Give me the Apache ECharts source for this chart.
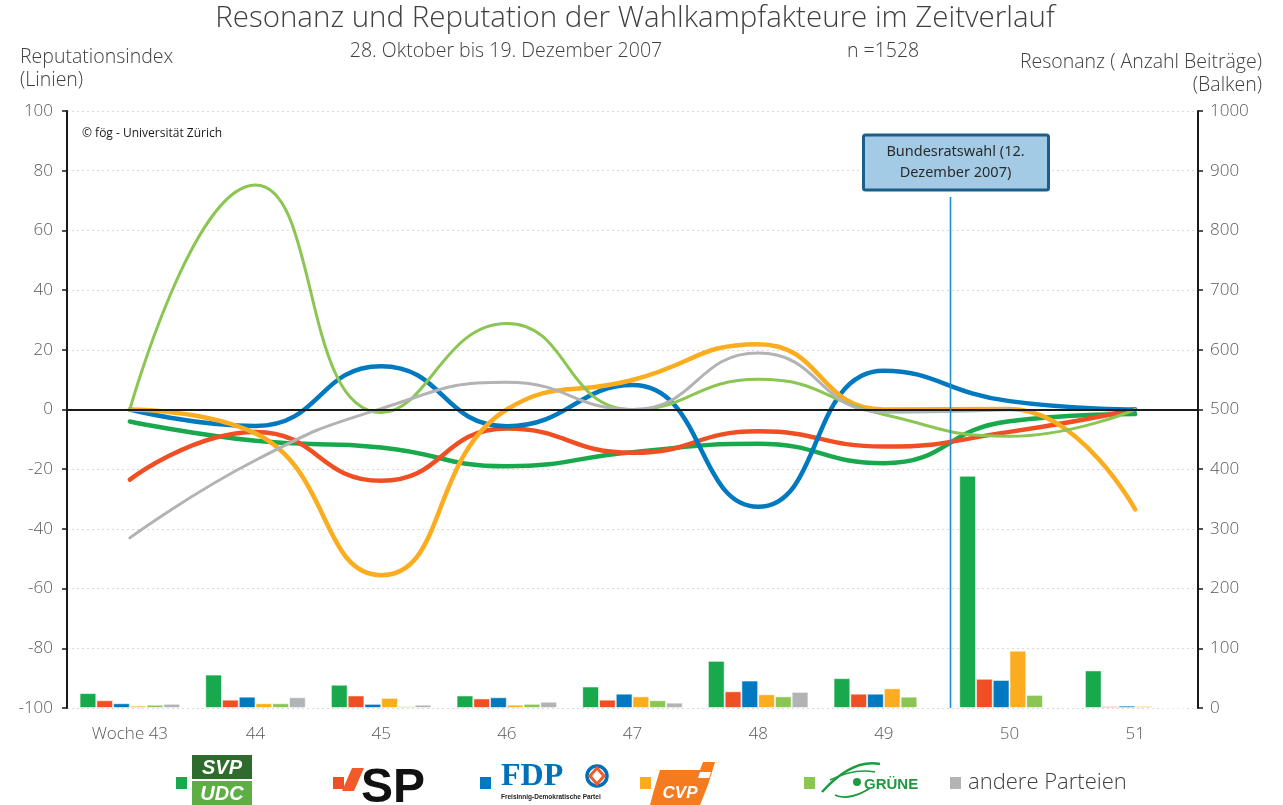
<!DOCTYPE html>
<html>
<head>
<meta charset="utf-8">
<script src="https://cdn.jsdelivr.net/npm/echarts@6/dist/echarts.min.js"></script>
<style>
html,body{margin:0;padding:0;background:#fff;}
#chart{width:1283px;height:805px;}
</style>
</head>
<body>
<div id="chart"></div>
<script>
// ---- data ----
const categories = ['Woche 43', '44', '45', '46', '47', '48', '49', '50', '51'];
const parties = ['SVP', 'SP', 'FDP', 'CVP', 'Grüne', 'andere Parteien'];
const colors = ['#17a94c', '#f04e23', '#0079c1', '#fbad1f', '#8bc653', '#b2b3b5'];

// Reputationsindex (lines, left axis)
const repSVP    = [-4, -10.5, -12.7, -19, -14.3, -11.5, -18, -3.9, -1.5];
const repSP     = [-23.5, -7.5, -23.9, -6.4, -14.5, -7.3, -12.4, -7.5, 0];
const repFDP    = [0, -5.5, 14.5, -5.6, 8.2, -32.6, 13, 2.8, 0];
const repCVP    = [0, -8, -55.5, 0, 9.9, 21.9, 0, 0.2, -33.5];
const repGruene = [0, 75.2, -1, 28.8, 0, 10.1, -1.7, -9, 0];
const repAndere = [-43, -17, 0.3, 9.1, 0, 18.9, -0.9, 0, null];

// Resonanz (bars, right axis)
const resSVP    = [25, 56, 39, 21, 36, 79, 50, 389, 63];
const resSP     = [13, 14, 21, 16, 14, 28, 24, 49, 3];
const resFDP    = [8, 19, 7, 18, 24, 46, 24, 47, 4];
const resCVP    = [4, 8, 17, 5.5, 19.5, 23, 33, 96, 3.5];
const resGruene = [5.5, 8, 3, 7, 13, 19.5, 19, 22, 1];
const resAndere = [7, 18, 5.5, 10.5, 9, 27, 1.5, 2, 0];

const leftTicks = {min: -100, max: 100, interval: 20};
const rightTicks = {min: 0, max: 1000, interval: 100};

const eventIndex = 6.53; // Bundesratswahl between week 49 and 50
const eventLabel = 'Bundesratswahl (12.\nDezember 2007)';

const repData = [repSVP, repSP, repFDP, repCVP, repGruene, repAndere];
const resData = [resSVP, resSP, resFDP, resCVP, resGruene, resAndere];
const lineWidths = [4.5, 4.5, 4.5, 4.5, 3, 3];

const FONT = '"Open Sans", "DejaVu Sans", sans-serif';

const series = [];
resData.forEach((d, i) => {
  series.push({
    name: parties[i] + ' Resonanz', type: 'bar', yAxisIndex: 1, data: d,
    barGap: '0%', barCategoryGap: '20%',
    itemStyle: {color: colors[i], borderColor: 'rgba(255,255,255,0.55)', borderWidth: 1},
    z: 2
  });
});
repData.forEach((d, i) => {
  series.push({
    name: parties[i] + ' Reputation', type: 'line', yAxisIndex: 0, data: d,
    smooth: 0.5, showSymbol: false, symbol: 'none',
    lineStyle: {color: colors[i], width: lineWidths[i], cap: 'round', join: 'round'},
    itemStyle: {color: colors[i]},
    z: 4
  });
});
series.push({
  name: 'zero', type: 'line', yAxisIndex: 0, data: [], z: 3,
  markLine: {silent: true, symbol: 'none', label: {show: false},
    lineStyle: {color: '#1a1a1a', width: 2, type: 'solid'},
    data: [{yAxis: 0}]}
});

const chart = echarts.init(document.getElementById('chart'), null, {renderer: 'canvas'});

const option = {
  animation: false,
  backgroundColor: '#fff',
  textStyle: {fontFamily: FONT},
  grid: {left: 67, right: 85, top: 111, bottom: 97, containLabel: false},
  xAxis: {
    type: 'category', data: categories,
    axisLine: {show: false}, axisTick: {show: false},
    axisLabel: {color: '#595959', fontSize: 17, fontFamily: FONT, margin: 18, fontWeight: 300}
  },
  yAxis: [
    {type: 'value', min: leftTicks.min, max: leftTicks.max, interval: leftTicks.interval,
     axisLine: {show: true, lineStyle: {color: '#1a1a1a', width: 2}},
     axisTick: {show: true, length: 5, lineStyle: {color: '#1a1a1a', width: 1.5}},
     axisLabel: {color: '#595959', fontSize: 17, fontFamily: FONT, margin: 14, fontWeight: 300},
     splitLine: {show: true, lineStyle: {color: '#d9d9d9', type: [2, 3], width: 1}}},
    {type: 'value', min: rightTicks.min, max: rightTicks.max, interval: rightTicks.interval,
     axisLine: {show: true, lineStyle: {color: '#1a1a1a', width: 2}},
     axisTick: {show: true, length: 5, lineStyle: {color: '#1a1a1a', width: 1.5}},
     axisLabel: {color: '#595959', fontSize: 17, fontFamily: FONT, margin: 12, fontWeight: 300,
       formatter: function (v) { return String(v); }},
     splitLine: {show: false}}
  ],
  series: series
};
chart.setOption(option);

// ---- annotations / titles / legend ----
const g = [];
function txt(x, y, text, size, opts) {
  opts = opts || {};
  g.push({type: 'text', x: x, y: y, silent: true, z: 50,
    style: Object.assign({text: text, fill: opts.fill || '#404040',
      font: (opts.style || 'normal') + ' ' + (opts.weight || 300) + ' ' + size + 'px ' + (opts.family || FONT),
      textAlign: opts.align || 'left', textVerticalAlign: opts.valign || 'middle',
      lineHeight: opts.lineHeight || size * 1.35}, opts.extra || {})});
}
txt(635, 19, 'Resonanz und Reputation der Wahlkampfakteure im Zeitverlauf', 29.5, {align: 'center'});
txt(506, 51, '28. Oktober bis 19. Dezember 2007', 19.5, {align: 'center'});
txt(847, 51, 'n =1528', 19.5);
txt(20, 69, 'Reputationsindex\n(Linien)', 19.5, {lineHeight: 23});
txt(1262, 74, 'Resonanz ( Anzahl Beiträge)\n(Balken)', 19.5, {align: 'right', lineHeight: 23});
txt(82, 134, '© fög - Universität Zürich', 12, {fill: '#1a1a1a', weight: 400});

// event line & box
const pA = chart.convertToPixel({xAxisIndex: 0}, Math.floor(eventIndex));
const pB = chart.convertToPixel({xAxisIndex: 0}, Math.ceil(eventIndex));
const ex = Math.round(pA + (pB - pA) * (eventIndex - Math.floor(eventIndex))) + 0.5;
const yBottom = chart.convertToPixel({yAxisIndex: 0}, leftTicks.min);
g.push({type: 'line', silent: true, z: 40,
  shape: {x1: ex, y1: 197, x2: ex, y2: yBottom},
  style: {stroke: '#1f8fd4', lineWidth: 1.6}});
g.push({type: 'rect', silent: true, z: 45,
  shape: {x: ex - 87, y: 135, width: 185, height: 55, r: 2},
  style: {fill: '#a4cbe6', stroke: '#1c5f8b', lineWidth: 3}});
txt(ex + 5, 162, eventLabel, 14.5, {align: 'center', fill: '#2b2b2b', weight: 400, lineHeight: 21,
  family: '"Noto Sans", "Open Sans", sans-serif'});

// legend squares
const sqX = [176, 333, 480, 640, 804, 950];
sqX.forEach((x, i) => {
  g.push({type: 'rect', silent: true, z: 50, shape: {x: x, y: 777, width: 11, height: 12},
    style: {fill: colors[i]}});
});
// SVP/UDC logo
g.push({type: 'rect', silent: true, z: 50, shape: {x: 192, y: 755, width: 60, height: 24}, style: {fill: '#2f6b2c'}});
g.push({type: 'rect', silent: true, z: 50, shape: {x: 192, y: 781, width: 60, height: 24}, style: {fill: '#5cae45'}});
txt(222, 768, 'SVP', 20, {align: 'center', fill: '#fff', weight: 'bold', style: 'italic', family: '"Liberation Sans", Arial, sans-serif'});
txt(222, 794, 'UDC', 20, {align: 'center', fill: '#fff', weight: 'bold', style: 'italic', family: '"Liberation Sans", Arial, sans-serif'});
// SP logo
g.push({type: 'polygon', silent: true, z: 50, shape: {points: [[352, 768], [364, 768], [354, 791], [342, 791]]}, style: {fill: '#f15a29'}});
txt(361, 789, 'SP', 48, {fill: '#111', weight: 'bold', family: '"Liberation Sans", Arial, sans-serif'});
// FDP logo
txt(501, 777, 'FDP', 32, {fill: '#0070bb', weight: 'bold', family: '"Liberation Serif", "DejaVu Serif", serif'});
g.push({type: 'circle', silent: true, z: 50, shape: {cx: 597, cy: 776, r: 10}, style: {fill: '#fff', stroke: '#0070bb', lineWidth: 3.5}});
g.push({type: 'polygon', silent: true, z: 51, shape: {points: [[597, 768], [604, 776], [597, 784], [590, 776]]}, style: {fill: '#fff', stroke: '#f15a29', lineWidth: 3}});
txt(501, 797, 'Freisinnig-Demokratische Partei', 6.5, {fill: '#222', weight: 'bold', family: '"Liberation Sans", Arial, sans-serif'});
// CVP logo
g.push({type: 'polygon', silent: true, z: 50, shape: {points: [[660, 770], [700, 770], [703, 762], [715, 762], [708, 785], [700, 805], [650, 805], [654, 790]]}, style: {fill: '#f47b20'}});
g.push({type: 'polygon', silent: true, z: 51, shape: {points: [[700, 772], [711, 772], [709, 778], [698, 778]]}, style: {fill: '#fff'}});
txt(680, 793, 'CVP', 17, {align: 'center', fill: '#fff', weight: 'bold', style: 'italic', family: '"Liberation Sans", Arial, sans-serif'});
// GRÜNE logo
g.push({type: 'bezierCurve', silent: true, z: 50, shape: {x1: 822, y1: 792, x2: 880, y2: 764, cpx1: 840, cpy1: 772, cpx2: 860, cpy2: 760}, style: {stroke: '#1e9a40', lineWidth: 2.5, fill: null}});
g.push({type: 'bezierCurve', silent: true, z: 50, shape: {x1: 830, y1: 780, x2: 875, y2: 772, cpx1: 850, cpy1: 770, cpx2: 865, cpy2: 770}, style: {stroke: '#1e9a40', lineWidth: 1.5, fill: null}});
g.push({type: 'bezierCurve', silent: true, z: 50, shape: {x1: 835, y1: 795, x2: 870, y2: 788, cpx1: 845, cpy1: 800, cpx2: 860, cpy2: 795}, style: {stroke: '#1e9a40', lineWidth: 1.8, fill: null}});
g.push({type: 'circle', silent: true, z: 50, shape: {cx: 857, cy: 782, r: 4}, style: {fill: '#1e9a40'}});
txt(864, 785, 'GRÜNE', 15, {fill: '#1e9a40', weight: 'bold', family: '"Liberation Sans", Arial, sans-serif'});
// andere Parteien
txt(968, 783, 'andere Parteien', 22, {fill: '#404040'});

chart.setOption({graphic: g});
</script>
</body>
</html>
